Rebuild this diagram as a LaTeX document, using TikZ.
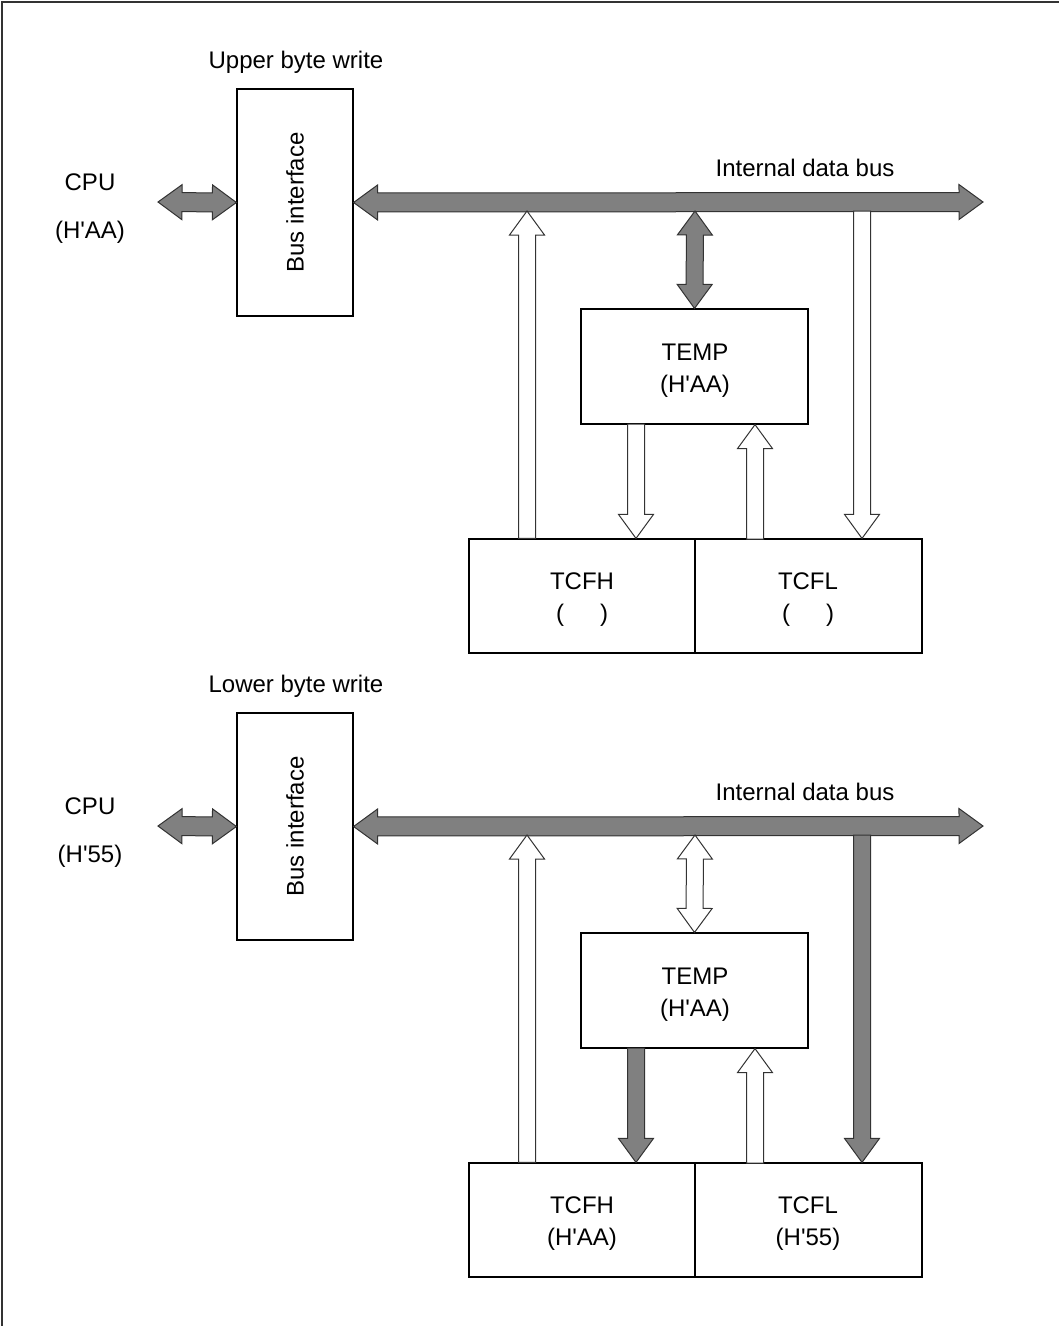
\documentclass[tikz,border=0pt]{standalone}
\usepackage{fontspec}
\setmainfont{Liberation Sans}
\usetikzlibrary{calc}
\definecolor{busgrey}{HTML}{808080}
\definecolor{edge}{HTML}{333333}
\tikzset{
  box/.style={draw=black, line width=1.2pt, inner sep=0pt},
  lbl/.style={font=\fontsize{24}{27}\selectfont, align=center, inner sep=0pt},
  solidarr/.style={fill=busgrey, draw=edge, line width=1pt, line join=miter},
  hollowarr/.style={fill=white, draw=edge, line width=1pt, line join=miter},
}
% single block arrow: style, tail, tip
\newcommand\blockarrow[3]{%
  \coordinate (ba-h) at ($#3!24pt!#2$);
  \draw[#1] ($#2!8.5pt!90:#3$) -- ($(ba-h)!8.5pt!90:#3$) -- ($(ba-h)!17.5pt!90:#3$) -- #3
    -- ($(ba-h)!17.5pt!-90:#3$) -- ($(ba-h)!8.5pt!-90:#3$) -- ($#2!8.5pt!-90:#3$) -- cycle;
}
% double block arrow: style, end A, end B, shaft half width
\newcommand\dblarrow[4]{%
  \coordinate (da-a) at ($#2!24pt!#3$);
  \coordinate (da-b) at ($#3!24pt!#2$);
  \draw[#1] #2 -- ($(da-a)!17.5pt!90:#3$) -- ($(da-a)!#4!90:#3$) -- ($(da-b)!#4!-90:#2$)
    -- ($(da-b)!17.5pt!-90:#2$) -- #3 -- ($(da-b)!17.5pt!90:#2$) -- ($(da-b)!#4!90:#2$)
    -- ($(da-a)!#4!-90:#3$) -- ($(da-a)!17.5pt!-90:#3$) -- cycle;
}
\begin{document}
\begin{tikzpicture}[x=1pt,y=-1pt]
\useasboundingbox (0,0) rectangle (1059,1326);
\draw[line width=2pt, edge] (1.5,1326) -- (1.5,1.5) -- (1059,1.5);

% ---------- upper half ----------
\node[lbl] (title1) at (296,62) {Upper byte write};
\node[box, minimum width=116pt, minimum height=227pt] (bi1) at (295,202.5) {};
\node[lbl, rotate=90] (bi1t) at (bi1.center) {Bus interface};
\node[lbl] (cpu1) at (90,182.5) {CPU};
\node[lbl] (cpuv1) at (90,232) {(H\textquotesingle AA)};
\coordinate (cpuend1) at (158,202);
\dblarrow{solidarr}{(cpuend1)}{(bi1.west)}{9.5pt}
\coordinate (busend1) at (983,202);
\dblarrow{solidarr}{(bi1.east)}{(busend1)}{9.5pt}
\node[lbl] (ibus1) at (805,168) {Internal data bus};

\node[box, minimum width=227pt, minimum height=115pt] (temp1) at (694.5,366.5) {};
\node[lbl] (temp1a) at (695,352.5) {TEMP};
\node[lbl] (temp1b) at (695,386) {(H\textquotesingle AA)};
\node[box, minimum width=226pt, minimum height=114pt] (tcfh1) at (582,596) {};
\node[box, minimum width=227pt, minimum height=114pt] (tcfl1) at (808.5,596) {};
\node[lbl] (tcfh1a) at (582,581.5) {TCFH};
\node[lbl] (tcfh1b) at (582,615) {(\hspace{36pt})};
\node[lbl] (tcfl1a) at (808,581.5) {TCFL};
\node[lbl] (tcfl1b) at (808,615) {(\hspace{36pt})};

\coordinate (a1) at (527,211);  \coordinate (a1b) at (a1 |- tcfh1.north);
\coordinate (c1) at (695,211);
\coordinate (d1) at (636,424);  \coordinate (d1b) at (d1 |- tcfh1.north);
\coordinate (e1) at (755,539);  \coordinate (e1b) at (e1 |- temp1.south);
\coordinate (f1) at (862,211);  \coordinate (f1b) at (f1 |- tcfl1.north);
\blockarrow{hollowarr}{(a1b)}{(a1)}
\dblarrow{solidarr}{(c1)}{(temp1.north)}{8.5pt}
\blockarrow{hollowarr}{(d1)}{(d1b)}
\blockarrow{hollowarr}{(e1)}{(e1b)}
\blockarrow{hollowarr}{(f1)}{(f1b)}

% ---------- lower half ----------
\node[lbl] (title2) at (296,686) {Lower byte write};
\node[box, minimum width=116pt, minimum height=227pt] (bi2) at (295,826.5) {};
\node[lbl, rotate=90] (bi2t) at (bi2.center) {Bus interface};
\node[lbl] (cpu2) at (90,806.5) {CPU};
\node[lbl] (cpuv2) at (90,856) {(H\textquotesingle 55)};
\coordinate (cpuend2) at (158,826);
\dblarrow{solidarr}{(cpuend2)}{(bi2.west)}{9.5pt}
\coordinate (busend2) at (983,826);
\dblarrow{solidarr}{(bi2.east)}{(busend2)}{9.5pt}
\node[lbl] (ibus2) at (805,792) {Internal data bus};

\node[box, minimum width=227pt, minimum height=115pt] (temp2) at (694.5,990.5) {};
\node[lbl] (temp2a) at (695,976.5) {TEMP};
\node[lbl] (temp2b) at (695,1010) {(H\textquotesingle AA)};
\node[box, minimum width=226pt, minimum height=114pt] (tcfh2) at (582,1220) {};
\node[box, minimum width=227pt, minimum height=114pt] (tcfl2) at (808.5,1220) {};
\node[lbl] (tcfh2a) at (582,1205.5) {TCFH};
\node[lbl] (tcfh2b) at (582,1239) {(H\textquotesingle AA)};
\node[lbl] (tcfl2a) at (808,1205.5) {TCFL};
\node[lbl] (tcfl2b) at (808,1239) {(H\textquotesingle 55)};

\coordinate (a2) at (527,835);  \coordinate (a2b) at (a2 |- tcfh2.north);
\coordinate (c2) at (695,835);
\coordinate (d2) at (636,1048); \coordinate (d2b) at (d2 |- tcfh2.north);
\coordinate (e2) at (755,1163); \coordinate (e2b) at (e2 |- temp2.south);
\coordinate (f2) at (862,835);  \coordinate (f2b) at (f2 |- tcfl2.north);
\blockarrow{hollowarr}{(a2b)}{(a2)}
\dblarrow{hollowarr}{(c2)}{(temp2.north)}{8.5pt}
\blockarrow{solidarr}{(d2)}{(d2b)}
\blockarrow{hollowarr}{(e2)}{(e2b)}
\blockarrow{solidarr}{(f2)}{(f2b)}
\end{tikzpicture}
\end{document}
